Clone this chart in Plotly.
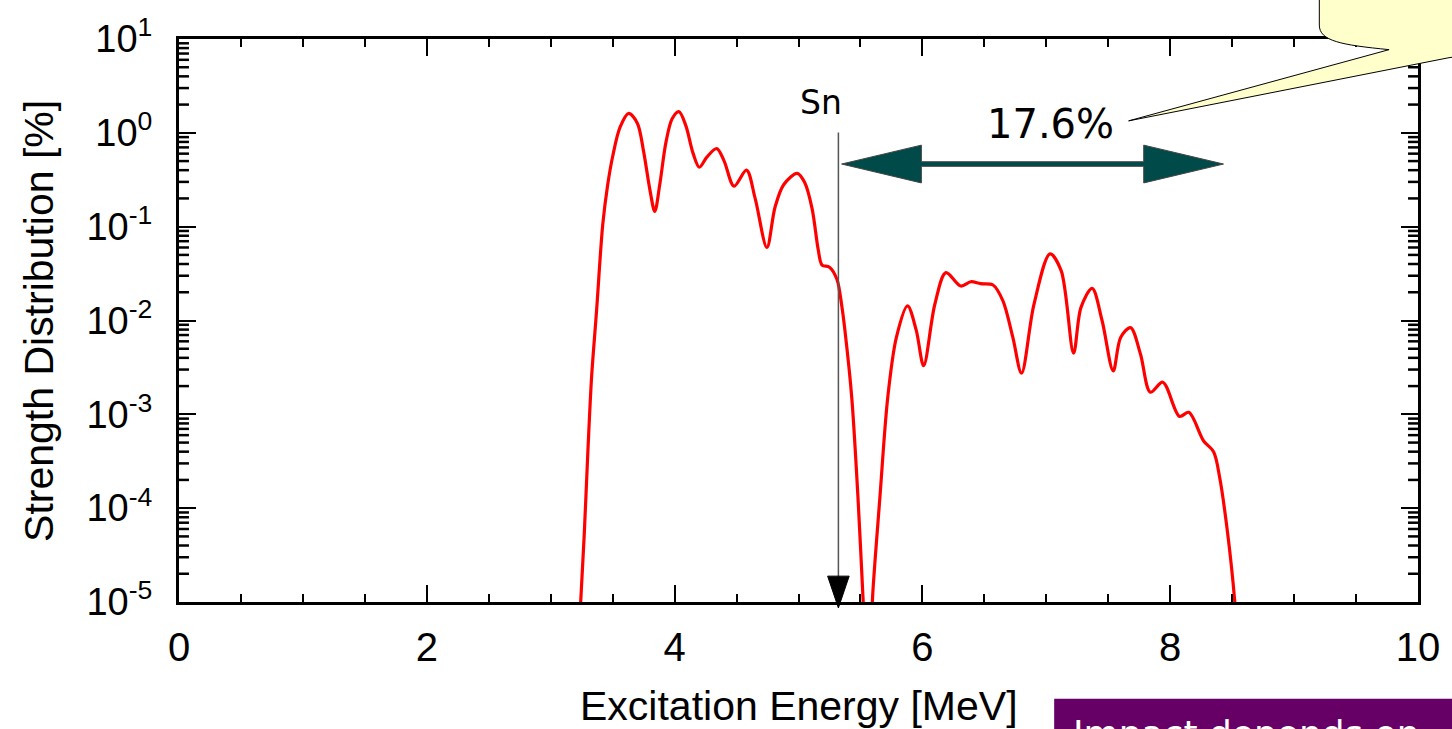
import math
import plotly.graph_objects as go

# ---------------- data ----------------
energy_mev = [3.23, 3.27, 3.30, 3.33, 3.37, 3.42, 3.46, 3.50, 3.56, 3.63,
              3.70, 3.75, 3.80, 3.84, 3.88, 3.93, 3.98, 4.035, 4.09, 4.15,
              4.20, 4.26, 4.34, 4.40, 4.48, 4.58, 4.65, 4.745, 4.81, 4.88,
              4.99, 5.05, 5.11, 5.16, 5.19, 5.25, 5.31, 5.35, 5.375, 5.43,
              5.48, 5.52, 5.56, 5.60, 5.657, 5.72, 5.79, 5.88, 5.95, 6.01,
              6.10, 6.19, 6.31, 6.39, 6.47, 6.57, 6.65, 6.73, 6.80, 6.90,
              7.03, 7.12, 7.22, 7.28, 7.37, 7.45, 7.54, 7.60, 7.68, 7.76,
              7.84, 7.94, 8.075, 8.15, 8.27, 8.35, 8.40, 8.46, 8.52, 8.55]
strength_pct = [5e-6, 5.0e-5, 4.0e-4, 2.5e-3, 1.26e-2, 0.105, 0.28, 0.56, 1.15, 1.61,
                1.26, 0.63, 0.25, 0.145, 0.28, 0.79, 1.41, 1.68, 1.2, 0.60,
                0.43, 0.55, 0.68, 0.50, 0.27, 0.40, 0.20, 0.060, 0.16, 0.28,
                0.37, 0.295, 0.155, 0.056, 0.039, 0.037, 0.0275, 0.0141, 7.8e-3, 1.5e-3,
                1.3e-4, 1.15e-5, 1e-6, 1.26e-5, 1.3e-4, 1.5e-3, 6.6e-3, 0.0143, 7.9e-3, 3.3e-3,
                0.0148, 0.0324, 0.0233, 0.0259, 0.0247, 0.0239, 0.0162, 6.6e-3, 2.75e-3, 0.0148,
                0.0513, 0.034, 4.5e-3, 0.0138, 0.022, 0.010, 2.9e-3, 6.6e-3, 8.4e-3, 4.4e-3,
                1.72e-3, 2.2e-3, 9.5e-4, 1.05e-3, 5.2e-4, 4.0e-4, 2.1e-4, 5.9e-5, 1.05e-5, 2.5e-6]

x_ticks = [0, 2, 4, 6, 8, 10]
y_tickvals = [1e-5, 1e-4, 1e-3, 1e-2, 1e-1, 1e0, 1e1]
y_ticktext = ["10<sup>-5</sup>", "10<sup>-4</sup>", "10<sup>-3</sup>", "10<sup>-2</sup>",
              "10<sup>-1</sup>", "10<sup>0</sup>", "10<sup>1</sup>"]
y_minor_digits = [2, 3, 4, 5, 6, 7, 8, 9]
y_range_log = [-5, 1]

sn_energy = 5.322          # neutron separation energy marker
band_start, band_end = 5.348, 8.43
band_label = "17.6%"

# ---------------- layout geometry ----------------
W, H = 1452, 729
ML, MR, MT, MB = 179, 30, 36, 127
PW, PH = W - ML - MR, H - MT - MB


def px(x):
    return (x - ML) / PW


def py(y):
    return (H - MB - y) / PH


def log_frac(v):
    """position of a log-axis value as a fraction of the plot height"""
    return (math.log10(v) - y_range_log[0]) / (y_range_log[1] - y_range_log[0])


y_minor_vals = [d * v for v in y_tickvals[:-1] for d in y_minor_digits]

fig = go.Figure()
fig.add_trace(go.Scatter(
    x=energy_mev, y=strength_pct, mode="lines",
    line=dict(color="#ff0000", width=3.2, shape="spline", smoothing=0.9),
    hoverinfo="skip", showlegend=False))

axis_font = dict(family="Liberation Sans, Arial, sans-serif", size=40, color="black")

fig.update_layout(
    xaxis=dict(range=[0, 10], tickvals=x_ticks, ticktext=[str(v) for v in x_ticks],
               ticks="inside", ticklen=17, tickwidth=2, tickcolor="black",
               showline=True, linewidth=3, linecolor="black", mirror="ticks",
               showgrid=False, zeroline=False, tickfont=axis_font,
               ticklabelstandoff=8,
               minor=dict(ticks="inside", ticklen=8, tickwidth=2, tickcolor="black", dtick=0.5)),
    yaxis=dict(type="log", range=y_range_log, tickvals=y_tickvals, ticktext=y_ticktext,
               ticks="inside", ticklen=17, tickwidth=2, tickcolor="black",
               showline=True, linewidth=3, linecolor="black", mirror="ticks",
               showgrid=False, zeroline=False, tickfont=dict(axis_font, size=38),
               ticklabelstandoff=16),
)

shapes = []
# minor log ticks on the left and right frame
tl = 10 / PW
for v in y_minor_vals:
    f = log_frac(v)
    shapes.append(dict(type="line", xref="paper", yref="paper", x0=-0.001, x1=tl, y0=f, y1=f,
                       line=dict(color="black", width=2.5), layer="above"))
    shapes.append(dict(type="line", xref="paper", yref="paper", x0=1 - tl, x1=1.001, y0=f, y1=f,
                       line=dict(color="black", width=2.5), layer="above"))
# Sn vertical line and arrowhead
shapes.append(dict(type="line", xref="x", yref="paper", x0=sn_energy, x1=sn_energy,
                   y0=py(130), y1=py(578), line=dict(color="#555555", width=1.5)))
hw = 10.8 / PW * 10
shapes.append(dict(type="path", xref="x", yref="paper",
                   path=f"M {sn_energy - hw} {py(576)} L {sn_energy + hw} {py(576)} L {sn_energy} {py(608)} Z",
                   fillcolor="black", line=dict(color="black", width=1)))
# double arrow
hx = (923.3 - 843.3) / PW * 10
yc, yh, ys = 161.7, 19, 2.3
pts = [(band_start, yc), (band_start + hx, yc - yh), (band_start + hx, yc - ys),
       (band_end - hx, yc - ys), (band_end - hx, yc - yh), (band_end, yc),
       (band_end - hx, yc + yh), (band_end - hx, yc + ys), (band_start + hx, yc + ys),
       (band_start + hx, yc + yh)]
path = "M " + " L ".join(f"{a} {py(b)}" for a, b in pts) + " Z"
shapes.append(dict(type="path", xref="x", yref="paper", path=path,
                   fillcolor="#004a4a", line=dict(color="#444444", width=1)))
# callout balloon
path = (f"M {px(1323)} {py(-5)} L {px(1323)} {py(22)} "
        f"C {px(1323)} {py(38)} {px(1345)} {py(42)} {px(1393)} {py(46.7)} "
        f"L {px(1131.7)} {py(118.3)} L {px(1452)} {py(55)} L {px(1470)} {py(52)} "
        f"L {px(1470)} {py(-5)} Z")
shapes.append(dict(type="path", xref="paper", yref="paper", path=path,
                   fillcolor="#ffffcc", line=dict(color="black", width=1), layer="above"))
# purple box
shapes.append(dict(type="rect", xref="paper", yref="paper", x0=px(1057), x1=px(1470),
                   y0=py(699.3), y1=py(760), fillcolor="#660066", line=dict(width=0),
                   layer="above"))

annotations = [
    dict(text="Sn", x=px(823), y=py(100), xref="paper", yref="paper", showarrow=False,
         xanchor="center", yanchor="middle",
         font=dict(family="DejaVu Sans", size=33, color="black")),
    dict(text=band_label, x=px(1053), y=py(121), xref="paper", yref="paper", showarrow=False,
         xanchor="center", yanchor="middle",
         font=dict(family="DejaVu Sans", size=40, color="black")),
    dict(text="Impact depends on", x=px(1074), y=py(712), xref="paper", yref="paper",
         showarrow=False, xanchor="left", yanchor="top",
         font=dict(family="DejaVu Sans", size=36, color="white")),
    dict(text="Excitation Energy [MeV]", x=0.5, y=py(707), xref="paper", yref="paper",
         showarrow=False, xanchor="center", yanchor="middle", font=dict(axis_font, size=41)),
    dict(text="Strength Distribution [%]", x=px(38), y=0.5, xref="paper", yref="paper",
         showarrow=False, xanchor="center", yanchor="middle", textangle=-90,
         font=dict(axis_font, size=41)),
]

fig.update_layout(width=W, height=H, margin=dict(l=ML, r=MR, t=MT, b=MB, pad=0),
                  paper_bgcolor="white", plot_bgcolor="white",
                  shapes=shapes, annotations=annotations, showlegend=False)

fig.write_html("out.html")
